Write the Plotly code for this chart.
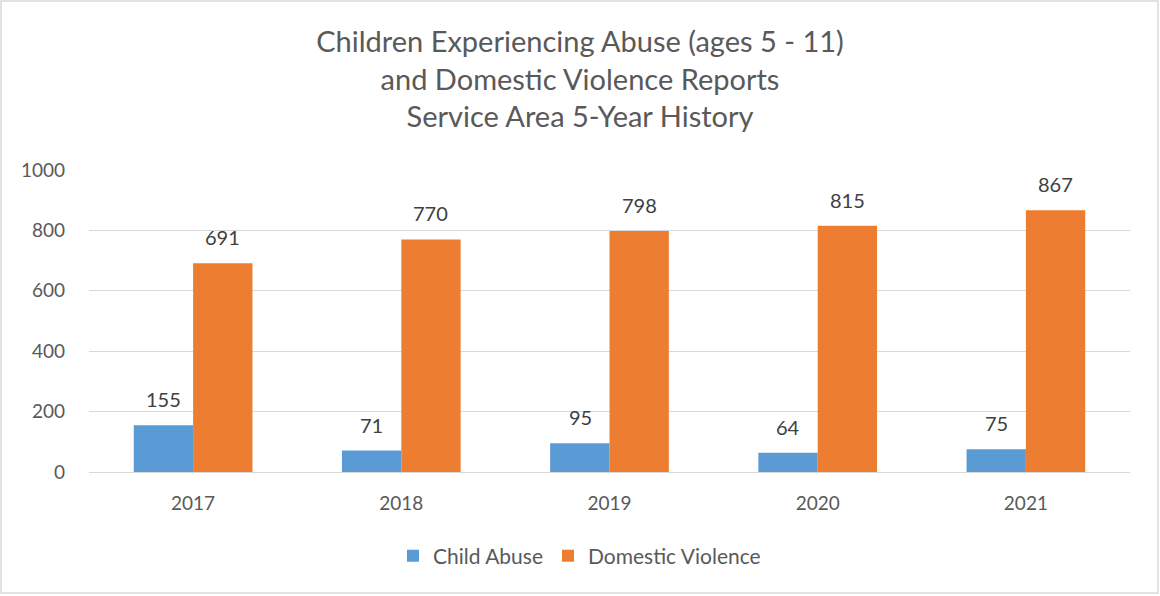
import plotly.graph_objects as go

years = ["2017", "2018", "2019", "2020", "2021"]
child_abuse = [155, 71, 95, 64, 75]
domestic_violence = [691, 770, 798, 815, 867]
y_ticks = [0, 200, 400, 600, 800, 1000]

W, H = 1160, 596
ml, mr, mt, mb = 89, 30, 170, 124
pw, ph = W - ml - mr, H - mt - mb
FONT = "Lato, Open Sans, sans-serif"
BAR_PX = 59  # approximate bar width in pixels for label offsets

fig = go.Figure()
fig.add_trace(go.Bar(name="Child Abuse", x=years, y=child_abuse,
                     marker=dict(color="#5b9bd5", line=dict(width=0))))
fig.add_trace(go.Bar(name="Domestic Violence", x=years, y=domestic_violence,
                     marker=dict(color="#ed7d31", line=dict(width=0))))

annotations = []
for series, shift in ((child_abuse, -BAR_PX / 2), (domestic_violence, BAR_PX / 2)):
    for i, v in enumerate(series):
        annotations.append(dict(x=i, y=v, xref="x", yref="y", text=str(v), showarrow=False,
                                xshift=shift, yshift=12, yanchor="bottom", xanchor="center",
                                font=dict(size=20, color="#404040", family=FONT)))

fig.update_layout(
    width=W, height=H,
    margin=dict(l=ml, r=mr, t=mt, b=mb, autoexpand=False),
    paper_bgcolor="white", plot_bgcolor="white",
    barmode="group", bargap=0.43, bargroupgap=0,
    font=dict(family=FONT, color="#595959"),
    title=dict(text="Children Experiencing Abuse (ages 5 - 11)<br>and Domestic Violence Reports<br>Service Area 5-Year History",
               x=0.5, xanchor="center", y=1 - 52 / H, yanchor="middle", yref="container",
               font=dict(size=29, color="#595959", family=FONT)),
    legend=dict(orientation="h", x=0.5 - 30 / pw, xanchor="center", y=(472 - 556) / ph, yanchor="middle",
                font=dict(size=21, color="#595959", family=FONT), itemsizing="constant"),
    yaxis=dict(range=[0, 1000], tickvals=y_ticks, showgrid=True, gridcolor="#d9d9d9", gridwidth=1.3,
               zeroline=True, zerolinecolor="#d9d9d9", zerolinewidth=1.3,
               tickfont=dict(size=19, color="#595959"), ticks="", ticklabelstandoff=23,
               showline=False),
    xaxis=dict(type="category", range=[-0.5, len(years) - 0.5],
               tickfont=dict(size=19, color="#595959"), showline=False, ticks="",
               ticklabelstandoff=18),
    annotations=annotations,
    shapes=[dict(type="rect", xref="paper", yref="paper",
                 x0=(1 - ml) / pw, x1=(W - 2 - ml) / pw,
                 y0=(472 - (H - 3)) / ph, y1=(472 - 1) / ph,
                 line=dict(color="#d9d9d9", width=1.5), fillcolor="rgba(0,0,0,0)", layer="below")],
)

fig.write_html("out.html", config={"displayModeBar": False},
               post_script="document.body.style.margin='0';document.body.style.padding='0';")
